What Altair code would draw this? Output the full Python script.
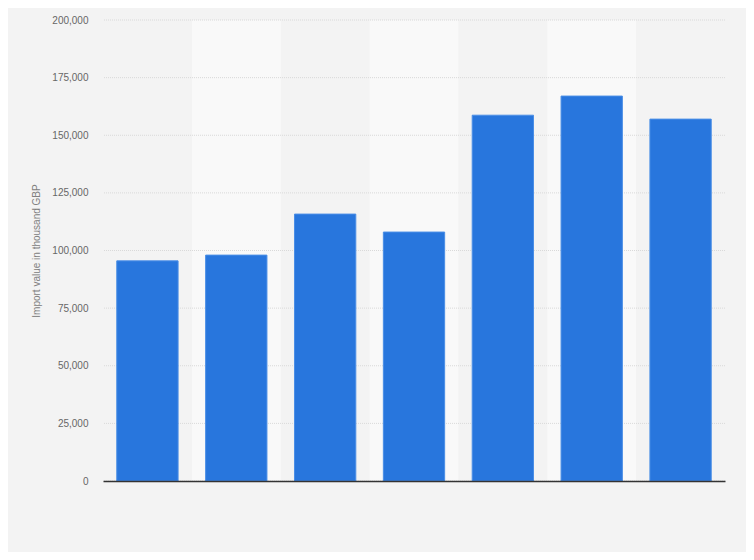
import altair as alt
import pandas as pd

categories = ["2012", "2013", "2014", "2015", "2016", "2017", "2018"]
values = [95500, 98000, 115800, 108000, 158700, 167000, 157000]
shaded = ["2013", "2015", "2017"]
ticks = [0, 25000, 50000, 75000, 100000, 125000, 150000, 175000, 200000]

bars_df = pd.DataFrame({"cat": categories, "value": values})
band_df = pd.DataFrame({"cat": shaded})
grid_df = pd.DataFrame({"value": ticks})

FONT = "Liberation Sans"

bands = alt.Chart(band_df).mark_rect(color="#f9f9f9").encode(
    x=alt.X("cat:N", sort=categories,
            scale=alt.Scale(domain=categories, paddingInner=0, paddingOuter=0),
            axis=None),
    y=alt.datum(200000),
    y2=alt.datum(0),
)

grid = alt.Chart(grid_df).mark_rule(color="#d9d9d9", strokeDash=[1, 1], strokeWidth=1).encode(
    y=alt.Y("value:Q"),
)

bars = alt.Chart(bars_df).mark_bar(color="#2876dd", stroke="#4a8ee6", strokeWidth=1).encode(
    x=alt.X("cat:N", sort=categories,
            scale=alt.Scale(domain=categories, paddingInner=0.31, paddingOuter=0.155),
            axis=alt.Axis(title=None, labels=False, ticks=False, domain=True,
                          domainColor="#333333", domainWidth=1.5, grid=False, zindex=2)),
    y=alt.Y("value:Q",
            scale=alt.Scale(domain=[0, 200000], nice=False),
            axis=alt.Axis(title="Import value in thousand GBP", values=ticks,
                          format=",d", domain=False, ticks=False, labelPadding=15,
                          labelFont=FONT, labelFontSize=10, labelColor="#666666",
                          titleFont=FONT, titleFontSize=10, titleColor="#808080",
                          titleFontWeight="normal", titlePadding=10,
                          grid=False)),
)

chart = alt.layer(bands, grid, bars).resolve_scale(x="independent").properties(
    width=622, height=461,
    background="#f3f3f3",
    padding={"left": 95, "top": 12, "right": 21, "bottom": 71},
    autosize=alt.AutoSizeParams(type="none"),
).configure_view(stroke=None, fill="#f3f3f3")

chart.save("out.html", embed_options={"renderer": "svg", "actions": False})
